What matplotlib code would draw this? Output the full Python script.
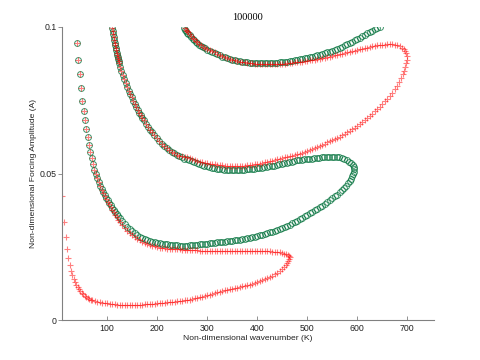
import matplotlib
matplotlib.use("Agg")
import matplotlib.pyplot as plt
import numpy as np

# DATA  (K, A) pairs, one list per branch

# steep left branch, shared by red and green
left_dots = [(40, 0.0947), (42.7, 0.0887), (45.3, 0.0838), (48, 0.0791), (50.7, 0.0749),
             (53.3, 0.0714), (56, 0.0683), (58.7, 0.0651), (61.3, 0.0624), (64, 0.0597),
             (66.7, 0.0572), (69.3, 0.0552), (72, 0.0531), (74.7, 0.0512), (77.3, 0.0497),
             (80, 0.0484)]

# red, first tongue, lower branch (left edge -> tip)
red1_low = [(10.7, 0.0423), (14, 0.0336), (17.3, 0.0282), (20, 0.0241), (22.7, 0.0211),
            (25.3, 0.0188), (28, 0.0169), (30.7, 0.0154), (33.3, 0.0141), (36, 0.0130),
            (38.7, 0.0121), (41.3, 0.0113), (44, 0.0106), (46.7, 0.0099), (49.3, 0.0093),
            (52, 0.0088), (55, 0.0083), (58, 0.0079), (61, 0.0076), (64, 0.0073),
            (67, 0.0070), (70, 0.0068), (75, 0.0065), (80, 0.0063), (85, 0.0061),
            (90, 0.0059), (95, 0.0058), (100, 0.0057), (105, 0.0056), (110, 0.0055),
            (115, 0.0054), (120, 0.0053), (125, 0.0053), (130, 0.0052), (135, 0.0052),
            (140, 0.0052), (145, 0.0052), (150, 0.0052), (155, 0.0052), (160, 0.0053),
            (165, 0.0053), (170, 0.0053), (175, 0.0054), (180, 0.0055), (185, 0.0055),
            (190, 0.0056), (195, 0.0056), (200, 0.0057), (205, 0.0058), (210, 0.0059),
            (215, 0.0059), (220, 0.0060), (225, 0.0061), (230, 0.0062), (235, 0.0063),
            (240, 0.0064), (245, 0.0065), (250, 0.0066), (255, 0.0068), (260, 0.0069),
            (265, 0.0070), (270, 0.0072), (275, 0.0074), (280, 0.0076), (285, 0.0078),
            (290, 0.0080), (295, 0.0082), (300, 0.0084), (305, 0.0086), (310, 0.0089),
            (315, 0.0091), (320, 0.0094), (325, 0.0096), (330, 0.0099), (335, 0.0101),
            (340, 0.0103), (345, 0.0105), (350, 0.0107), (355, 0.0109), (360, 0.0111),
            (365, 0.0113), (370, 0.0115), (375, 0.0117), (380, 0.0119), (385, 0.0121),
            (390, 0.0124), (395, 0.0127), (400, 0.0130), (405, 0.0133), (410, 0.0136),
            (415, 0.0139), (420, 0.0143), (425, 0.0147), (430, 0.0151), (435, 0.0156),
            (440, 0.0161), (445, 0.0167), (450, 0.0174), (454, 0.0181), (457, 0.0188),
            (460, 0.0195), (462, 0.0201), (464, 0.0207), (465, 0.0214)]

# red, first tongue, upper branch (below the shared left dots -> tip)
red1_up = [(83, 0.0470), (86, 0.0457), (89, 0.0444), (92, 0.0433), (95, 0.0422),
           (98, 0.0413), (101, 0.0404), (104, 0.0395), (107, 0.0386), (110, 0.0377),
           (113, 0.0368), (116, 0.0358), (119, 0.0350), (122, 0.0343), (125, 0.0336),
           (130, 0.0325), (135, 0.0314), (140, 0.0305), (145, 0.0297), (150, 0.0290),
           (155, 0.0283), (160, 0.0277), (165, 0.0272), (170, 0.0267), (175, 0.0263),
           (180, 0.0259), (185, 0.0256), (190, 0.0253), (195, 0.0251), (200, 0.0249),
           (205, 0.0247), (210, 0.0246), (215, 0.0245), (220, 0.0244), (225, 0.0243),
           (230, 0.0242), (235, 0.0242), (240, 0.0241), (245, 0.0241), (250, 0.0240),
           (255, 0.0240), (260, 0.0239), (265, 0.0239), (270, 0.0238), (275, 0.0238),
           (280, 0.0238), (285, 0.0237), (290, 0.0237), (295, 0.0237), (300, 0.0237),
           (305, 0.0237), (310, 0.0237), (315, 0.0237), (320, 0.0237), (325, 0.0237),
           (330, 0.0237), (335, 0.0237), (340, 0.0237), (345, 0.0237), (350, 0.0237),
           (355, 0.0236), (360, 0.0236), (365, 0.0236), (370, 0.0236), (375, 0.0236),
           (380, 0.0236), (385, 0.0236), (390, 0.0236), (395, 0.0236), (400, 0.0236),
           (405, 0.0235), (410, 0.0235), (415, 0.0235), (420, 0.0234), (425, 0.0234),
           (430, 0.0233), (435, 0.0233), (440, 0.0232), (445, 0.0231), (450, 0.0229),
           (454, 0.0227), (458, 0.0225), (461, 0.0222), (463, 0.0219)]

# green, first tongue, lower branch (below the shared left dots -> tip)
green1_low = [(83, 0.0471), (86, 0.0459), (89, 0.0447), (92, 0.0436), (95, 0.0426),
              (98, 0.0417), (101, 0.0408), (104, 0.0400), (107, 0.0392), (110, 0.0384),
              (113, 0.0376), (116, 0.0368), (119, 0.0361), (122, 0.0354), (125, 0.0347),
              (130, 0.0337), (135, 0.0327), (140, 0.0318), (145, 0.0310), (150, 0.0303),
              (155, 0.0297), (160, 0.0291), (165, 0.0285), (170, 0.0281), (175, 0.0277),
              (180, 0.0274), (185, 0.0271), (190, 0.0268), (195, 0.0266), (200, 0.0264),
              (205, 0.0262), (210, 0.0260), (215, 0.0259), (220, 0.0258), (225, 0.0257),
              (230, 0.0256), (235, 0.0255), (240, 0.0255), (245, 0.0254), (250, 0.0254),
              (255, 0.0254), (260, 0.0254), (265, 0.0255), (270, 0.0255), (275, 0.0256),
              (280, 0.0257), (285, 0.0258), (290, 0.0259), (295, 0.0260), (300, 0.0261),
              (305, 0.0262), (310, 0.0263), (315, 0.0264), (320, 0.0265), (325, 0.0266),
              (330, 0.0267), (335, 0.0268), (340, 0.0269), (345, 0.0270), (350, 0.0271),
              (355, 0.0272), (360, 0.0273), (365, 0.0274), (370, 0.0275), (375, 0.0277),
              (380, 0.0279), (385, 0.0281), (390, 0.0283), (395, 0.0285), (400, 0.0287),
              (405, 0.0289), (410, 0.0291), (415, 0.0294), (420, 0.0296), (425, 0.0299),
              (430, 0.0302), (435, 0.0305), (440, 0.0308), (445, 0.0312), (450, 0.0315),
              (455, 0.0318), (460, 0.0322), (465, 0.0326), (470, 0.0330), (475, 0.0334),
              (480, 0.0339), (485, 0.0344), (490, 0.0349), (495, 0.0354), (500, 0.0359),
              (505, 0.0364), (510, 0.0369), (515, 0.0374), (520, 0.0379), (525, 0.0385),
              (530, 0.0390), (535, 0.0396), (540, 0.0402), (545, 0.0408), (550, 0.0415),
              (555, 0.0422), (560, 0.0428), (565, 0.0436), (570, 0.0444), (574, 0.0451),
              (578, 0.0459), (582, 0.0467), (585, 0.0474), (588, 0.0483), (590, 0.0490),
              (592, 0.0498), (593, 0.0506), (594, 0.0514)]

# green, first tongue, upper branch (tip -> where it joins the steep band)
green1_up = [(593, 0.0522), (591, 0.0529), (588, 0.0535), (584, 0.0541), (579, 0.0546),
             (574, 0.0550), (569, 0.0553), (564, 0.0555), (559, 0.0556), (554, 0.0556),
             (549, 0.0556), (544, 0.0556), (539, 0.0556), (534, 0.0555), (529, 0.0555),
             (524, 0.0554), (519, 0.0553), (514, 0.0552), (509, 0.0551), (504, 0.0550),
             (499, 0.0549), (494, 0.0548), (489, 0.0547), (484, 0.0546), (479, 0.0545),
             (474, 0.0543), (469, 0.0541), (464, 0.0539), (459, 0.0537), (454, 0.0535),
             (449, 0.0533), (444, 0.0531), (439, 0.0529), (434, 0.0527), (429, 0.0525),
             (424, 0.0524), (419, 0.0523), (414, 0.0521), (409, 0.0520), (404, 0.0519),
             (399, 0.0518), (394, 0.0517), (389, 0.0516), (384, 0.0515), (379, 0.0514),
             (374, 0.0513), (369, 0.0513), (364, 0.0512), (359, 0.0512), (354, 0.0512),
             (349, 0.0512), (344, 0.0512), (339, 0.0513), (334, 0.0513), (329, 0.0514),
             (324, 0.0515), (319, 0.0516), (314, 0.0518), (309, 0.0520), (304, 0.0522),
             (299, 0.0524), (294, 0.0527), (289, 0.0530), (284, 0.0533), (279, 0.0536),
             (274, 0.0539), (269, 0.0542), (264, 0.0545), (259, 0.0548), (254, 0.0551),
             (249, 0.0555)]

# steep band from the top near K=110, shared by green (tongue 1) and red (tongue 2)
steep_band = [(244, 0.0560), (239, 0.0564), (234, 0.0569), (229, 0.0574), (224, 0.0580),
              (219, 0.0587), (214, 0.0594), (209, 0.0602), (204, 0.0611), (199, 0.0620),
              (194, 0.0630), (189, 0.0641), (185, 0.0650), (181, 0.0660), (177, 0.0670),
              (173, 0.0681), (170, 0.0690), (167, 0.0699), (164, 0.0708), (161, 0.0718),
              (158, 0.0728), (155, 0.0738), (152, 0.0749), (149, 0.0760), (146, 0.0771),
              (143, 0.0783), (140, 0.0796), (137, 0.0809), (134, 0.0822), (131, 0.0836),
              (128, 0.0851), (126, 0.0863), (124, 0.0876), (123, 0.0883), (122, 0.0890),
              (121, 0.0897), (120, 0.0905), (119, 0.0912), (118, 0.0920), (117, 0.0928),
              (116, 0.0937), (115, 0.0946), (114, 0.0956), (113, 0.0965), (112, 0.0975),
              (111, 0.0985), (110, 0.0995)]

# red, second tongue, lower branch (bottom of steep band -> tip)
red2_low = [(250, 0.0561), (255, 0.0558), (260, 0.0555), (265, 0.0552), (270, 0.0549),
            (275, 0.0547), (280, 0.0544), (285, 0.0541), (290, 0.0539), (295, 0.0537),
            (300, 0.0535), (305, 0.0533), (310, 0.0532), (315, 0.0531), (320, 0.0530),
            (325, 0.0529), (330, 0.0528), (335, 0.0527), (340, 0.0527), (345, 0.0526),
            (350, 0.0526), (355, 0.0526), (360, 0.0526), (365, 0.0526), (370, 0.0526),
            (375, 0.0527), (380, 0.0528), (385, 0.0529), (390, 0.0530), (395, 0.0531),
            (400, 0.0533), (405, 0.0534), (410, 0.0536), (415, 0.0538), (420, 0.0540),
            (425, 0.0542), (430, 0.0544), (435, 0.0546), (440, 0.0548), (445, 0.0551),
            (450, 0.0553), (455, 0.0555), (460, 0.0557), (465, 0.0559), (470, 0.0561),
            (475, 0.0563), (480, 0.0565), (485, 0.0568), (490, 0.0571), (495, 0.0574),
            (500, 0.0577), (505, 0.0580), (510, 0.0583), (515, 0.0586), (520, 0.0590),
            (525, 0.0594), (530, 0.0598), (535, 0.0602), (540, 0.0606), (545, 0.0610),
            (550, 0.0614), (555, 0.0618), (560, 0.0622), (565, 0.0626), (570, 0.0631),
            (575, 0.0636), (580, 0.0641), (585, 0.0646), (590, 0.0651), (595, 0.0657),
            (600, 0.0663), (605, 0.0669), (610, 0.0676), (615, 0.0683), (620, 0.0690),
            (625, 0.0697), (630, 0.0704), (635, 0.0712), (640, 0.0720), (645, 0.0728),
            (650, 0.0737), (655, 0.0746), (660, 0.0755), (665, 0.0765), (670, 0.0775),
            (675, 0.0787), (680, 0.0800), (684, 0.0812), (688, 0.0826), (691, 0.0838),
            (694, 0.0851), (696, 0.0864), (698, 0.0876), (699, 0.0888)]

# red, second tongue, upper branch (tip -> top edge)
red2_up = [(699, 0.0900), (698, 0.0910), (696, 0.0918), (693, 0.0925), (689, 0.0930),
           (685, 0.0934), (680, 0.0938), (675, 0.0940), (670, 0.0941), (665, 0.0941),
           (660, 0.0941), (655, 0.0940), (650, 0.0939), (645, 0.0938), (640, 0.0937),
           (635, 0.0935), (630, 0.0934), (625, 0.0932), (620, 0.0930), (615, 0.0928),
           (610, 0.0926), (605, 0.0924), (600, 0.0921), (595, 0.0919), (590, 0.0917),
           (585, 0.0915), (580, 0.0913), (575, 0.0911), (570, 0.0909), (565, 0.0907),
           (560, 0.0905), (555, 0.0903), (550, 0.0901), (545, 0.0899), (540, 0.0897),
           (535, 0.0895), (530, 0.0894), (525, 0.0892), (520, 0.0890), (515, 0.0889),
           (510, 0.0887), (505, 0.0886), (500, 0.0885), (495, 0.0883), (490, 0.0882),
           (485, 0.0881), (480, 0.0880), (475, 0.0879), (470, 0.0878), (465, 0.0877),
           (460, 0.0876), (455, 0.0875), (450, 0.0875), (445, 0.0874), (440, 0.0874),
           (435, 0.0874), (430, 0.0874), (425, 0.0874), (420, 0.0874), (415, 0.0874),
           (410, 0.0874), (405, 0.0874), (400, 0.0875), (395, 0.0875), (390, 0.0876),
           (385, 0.0877), (380, 0.0878), (375, 0.0879), (370, 0.0880), (365, 0.0882),
           (360, 0.0884), (355, 0.0886), (350, 0.0888), (345, 0.0891), (340, 0.0894),
           (335, 0.0897), (330, 0.0901), (325, 0.0905), (320, 0.0909), (315, 0.0913),
           (310, 0.0918), (305, 0.0922), (300, 0.0926), (296, 0.0929), (292, 0.0933),
           (288, 0.0938), (284, 0.0943), (280, 0.0948), (277, 0.0953), (274, 0.0958),
           (271, 0.0964), (268, 0.0970), (265, 0.0976), (262, 0.0982), (260, 0.0986),
           (258, 0.0991), (256, 0.0996)]

# green, second tongue (top left -> top right)
green2 = [(253, 0.0996), (256, 0.0990), (258, 0.0985), (260, 0.0981), (262, 0.0977),
          (265, 0.0971), (268, 0.0965), (271, 0.0960), (274, 0.0955), (277, 0.0950),
          (280, 0.0945), (284, 0.0940), (288, 0.0935), (292, 0.0931), (296, 0.0927),
          (300, 0.0923), (305, 0.0919), (310, 0.0915), (315, 0.0911), (320, 0.0907),
          (325, 0.0903), (330, 0.0899), (335, 0.0896), (340, 0.0893), (345, 0.0890),
          (350, 0.0888), (355, 0.0886), (360, 0.0884), (365, 0.0883), (370, 0.0881),
          (375, 0.0880), (380, 0.0879), (385, 0.0878), (390, 0.0877), (395, 0.0877),
          (400, 0.0876), (405, 0.0876), (410, 0.0876), (415, 0.0876), (420, 0.0876),
          (425, 0.0877), (430, 0.0877), (435, 0.0878), (440, 0.0878), (445, 0.0879),
          (450, 0.0880), (455, 0.0881), (460, 0.0882), (465, 0.0884), (470, 0.0885),
          (475, 0.0887), (480, 0.0888), (485, 0.0890), (490, 0.0892), (495, 0.0893),
          (500, 0.0895), (505, 0.0897), (510, 0.0899), (515, 0.0901), (520, 0.0903),
          (525, 0.0905), (530, 0.0907), (535, 0.0910), (540, 0.0913), (545, 0.0916),
          (550, 0.0919), (555, 0.0922), (560, 0.0925), (565, 0.0929), (570, 0.0933),
          (575, 0.0937), (580, 0.0941), (585, 0.0945), (590, 0.0950), (595, 0.0954),
          (600, 0.0959), (605, 0.0963), (610, 0.0968), (615, 0.0973), (620, 0.0978),
          (625, 0.0983), (630, 0.0987), (635, 0.0992), (640, 0.0996), (645, 0.1000)]

x_ticks = [100, 200, 300, 400, 500, 600, 700]
y_ticks = [0, 0.05, 0.1]
y_tick_labels = ["0", "0.05", "0.1"]
title = "100000"

green_sets = [left_dots, green1_low, green1_up, steep_band, green2]
red_sets = [left_dots, red1_low, red1_up, steep_band, red2_low, red2_up]

# PLOTTING
plt.rcParams['font.family'] = ['Liberation Sans', 'DejaVu Sans']
fig = plt.figure(figsize=(4.81, 3.6), dpi=100)
ax = fig.add_axes([0.129, 0.111, 0.773, 0.814])

green_pts = np.array([p for s in green_sets for p in s])
red_pts = np.array([p for s in red_sets for p in s])

ax.plot(green_pts[:, 0], green_pts[:, 1], linestyle='none', marker='o', markersize=4.2,
        markerfacecolor='none', markeredgecolor='#00703a', markeredgewidth=0.7, alpha=0.75)
ax.plot(red_pts[:, 0], red_pts[:, 1], linestyle='none', marker='+', markersize=4.5,
        color='#ff0000', markeredgewidth=0.8, alpha=0.5)

ax.set_xlim(10, 753)
ax.set_ylim(0, 0.1)
ax.set_xticks(x_ticks)
ax.set_yticks(y_ticks)
ax.set_yticklabels(y_tick_labels)

for side in ['top', 'right']:
    ax.spines[side].set_visible(False)
for side in ['left', 'bottom']:
    ax.spines[side].set_color('#808080')
    ax.spines[side].set_linewidth(0.8)
ax.tick_params(axis='x', direction='in', length=3, width=0.6, color='#808080',
               labelsize=6.3, pad=3, labelcolor='#222222')
ax.tick_params(axis='y', direction='out', length=3, width=0.6, color='#808080',
               labelsize=6.3, pad=1, labelcolor='#222222')

ax.set_xlabel('Non-dimensional wavenumber (K)', fontsize=6.1, labelpad=1.5, color='#222222')
ax.set_ylabel('Non-dimensional Forcing Amplitude (A)', fontsize=6.1, labelpad=2, color='#222222')
ax.set_title(title, fontsize=7.5, family='Liberation Serif', pad=5)

fig.savefig("out.png", dpi=100)
